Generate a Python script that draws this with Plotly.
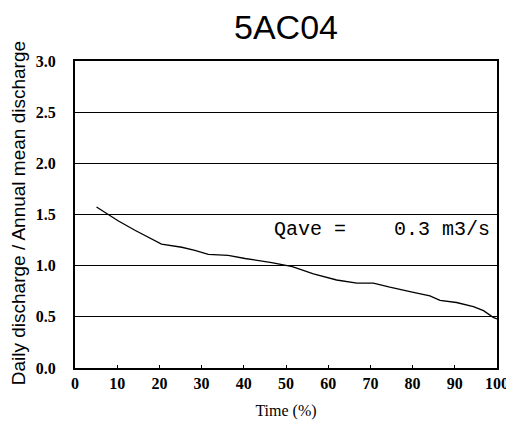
import plotly.graph_objects as go

# flow duration curve
time_pct = [5.1, 7.9, 10.3, 14.2, 18.2, 20.5, 25.3, 28.4, 31.6, 36.3, 40.3,
             46.6, 51.5, 56.5, 62.0, 66.8, 70.7, 74.6, 80.2, 84.1, 86.5,
             90.4, 94.4, 96.8, 99.1, 100.0]
ratio = [1.574, 1.496, 1.437, 1.346, 1.259, 1.21, 1.18, 1.15, 1.11, 1.10, 1.07,
         1.03, 0.99, 0.92, 0.86, 0.83, 0.83, 0.79, 0.74, 0.705, 0.66,
         0.64, 0.60, 0.56, 0.495, 0.48]

station = "5AC04"
qave_label = "Qave =\u00a0\u00a0\u00a0\u00a00.3 m3/s"
y_title = "Daily discharge / Annual mean discharge"

x_ticks = [0, 10, 20, 30, 40, 50, 60, 70, 80, 90, 100]
y_ticks = [0.0, 0.5, 1.0, 1.5, 2.0, 2.5, 3.0]

serif = 'Liberation Serif, Times New Roman, serif'
tick_font = dict(family=serif, size=16, color='black', weight='bold')

fig = go.Figure()
fig.add_trace(go.Scatter(x=time_pct, y=ratio, mode='lines',
                         line=dict(color='black', width=1.3),
                         showlegend=False))

fig.add_annotation(x=98.8, y=1.35, xref='x', yref='y', text=qave_label,
                   showarrow=False, xanchor='right', yanchor='middle',
                   font=dict(family='Liberation Mono', size=20, color='black'))

# y title placed by hand so it sits close to the tick labels
fig.add_annotation(x=-0.132, y=0.505, xref='paper', yref='paper', text=y_title,
                   showarrow=False, textangle=-90, xanchor='center', yanchor='middle',
                   font=dict(family='Liberation Sans', size=19, color='black'))

# page body has an 8px margin, so the figure is a bit smaller than the window
fig.update_layout(
    width=500, height=414,
    margin=dict(l=67, r=11, t=53, b=54),
    paper_bgcolor='white', plot_bgcolor='white',
    title=dict(text=station, x=0.556, xanchor='center', y=1 - 19.5 / 414,
               yanchor='middle',
               font=dict(family='Liberation Sans', size=34, color='black')),
    xaxis=dict(range=[0, 100], tickvals=x_ticks, showgrid=False, automargin=False,
               showline=True, mirror=True, linecolor='black', linewidth=2,
               ticks='inside', ticklen=3, tickcolor='black',
               tickfont=tick_font, ticklabeloverflow='allow',
               title=dict(text='Time (%)', standoff=14,
                          font=dict(family=serif, size=16, color='black')),
               zeroline=False),
    yaxis=dict(range=[0, 3.0], tickvals=y_ticks, tickformat='.1f', automargin=False,
               showgrid=True, gridcolor='black', gridwidth=1.2,
               showline=True, mirror=True, linecolor='black', linewidth=2,
               ticks='', ticklabelstandoff=14,
               tickfont=tick_font,
               zeroline=False),
)

fig.write_html("out.html")
